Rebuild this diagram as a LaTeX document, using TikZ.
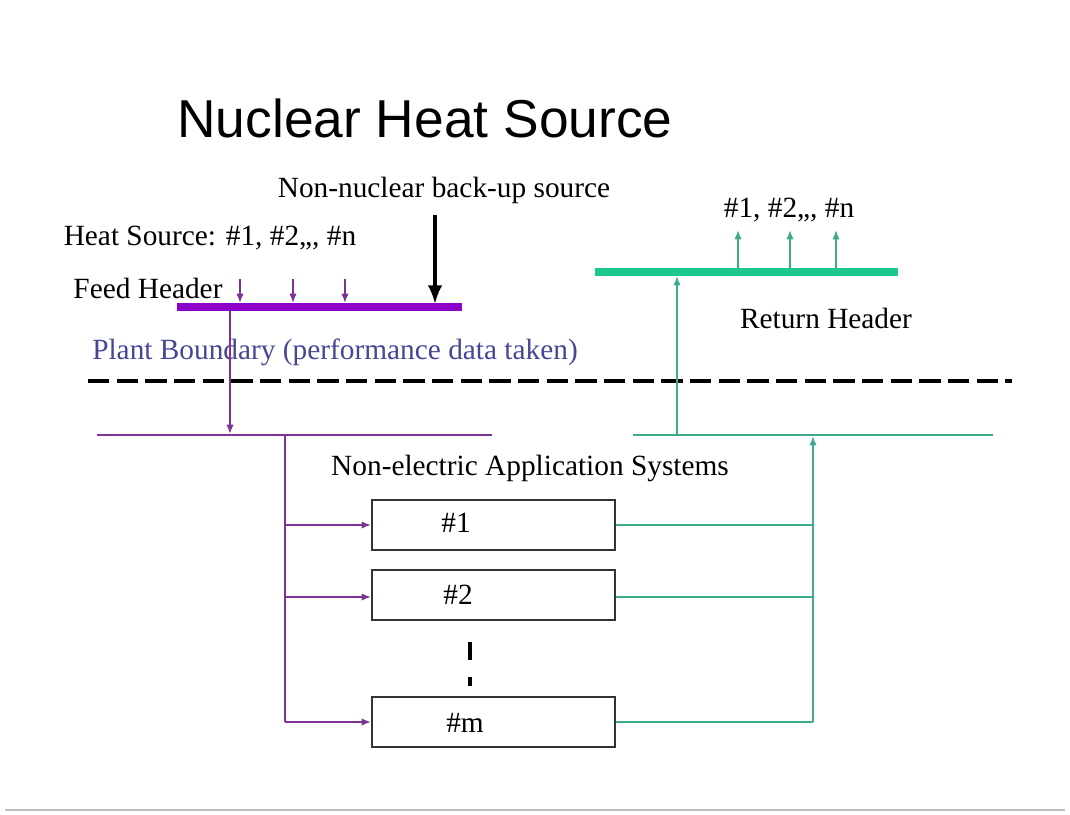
\documentclass[tikz,border=0pt]{standalone}
\usepackage{fontspec}
\setmainfont{Liberation Serif}
\newfontfamily\titlefont{Liberation Sans}
\usetikzlibrary{arrows.meta}
\definecolor{purplebar}{RGB}{140,0,200}
\definecolor{purpleline}{RGB}{125,50,150}
\definecolor{tealbar}{RGB}{30,200,140}
\definecolor{tealline}{RGB}{60,170,140}
\definecolor{boundblue}{RGB}{70,70,150}
\tikzset{
  lbl/.style={inner sep=0pt, font=\fontsize{22}{26}\selectfont},
  sysbox/.style={draw=black!80, line width=1.5pt, minimum width=243*0.75pt, minimum height=50*0.75pt, inner sep=0pt},
  pthin/.style={draw=purpleline, line width=1.2pt},
  tthin/.style={draw=tealline, line width=1.2pt},
  parrow/.style={pthin, -{Latex[length=7pt,width=5.5pt]}},
  tarrow/.style={tthin, -{Latex[length=7pt,width=5.5pt]}},
}
\begin{document}
\begin{tikzpicture}[x=0.75pt,y=-0.75pt]
\useasboundingbox (0,0) rectangle (1070,814);
\draw[black!25, line width=1pt] (5,810) -- (1065,810);
% title
\node[inner sep=0pt, font=\titlefont\fontsize{40}{46}\selectfont] (title) at (425,118) {Nuclear Heat Source};
% labels
\node[lbl] (backup) at (444,190) {Non-nuclear back-up source};
\node[lbl] (hs) at (210,238) {Heat Source: \#1, \#2,,, \#n};
\node[lbl] (fh) at (148,288) {Feed Header};
\node[lbl, text=boundblue] (pb) at (335,352) {Plant Boundary (performance data taken)};
\node[lbl] (ret) at (789,210) {\#1, \#2,,, \#n};
\node[lbl] (rh) at (826,318) {Return Header};
\node[lbl] (nea) at (530,468) {Non-electric Application Systems};
% feed header bar
\coordinate (fL) at (177,307);
\coordinate (fR) at (462,307);
\draw[purplebar, line width=6pt] (fL) -- (fR);
\foreach \x/\n in {240/a,293/b,345/c}{
  \coordinate (hs\n) at (\x,279);
  \coordinate (hf\n) at (\x,303);
  \draw[parrow] (hs\n) -- (hf\n);
}
\coordinate (bkT) at (435,215);
\coordinate (bkB) at (435,304);
\draw[black, line width=2.5pt, -{Latex[length=14pt,width=11pt]}] (bkT) -- (bkB);
% boundary dashed line
\coordinate (dL) at (88,381);
\coordinate (dR) at (1012,381);
\draw[black, line width=2.6pt, dash pattern=on 16pt off 5.5pt] (dL) -- (dR);
% lower distribution lines
\coordinate (plL) at (97,435);
\coordinate (plR) at (492,435);
\draw[pthin] (plL) -- (plR);
\coordinate (tlL) at (633,435);
\coordinate (tlR) at (993,435);
\draw[tthin] (tlL) -- (tlR);
\coordinate (fd1) at (230,311);
\coordinate (fd2) at (230,434);
\draw[parrow] (fd1) -- (fd2);
% boxes
\node[sysbox] (b1) at (493.5,525) {};
\node[sysbox] (b2) at (493.5,595) {};
\node[sysbox] (bm) at (493.5,722) {};
\node[lbl] (t1) at (456,523) {\#1};
\node[lbl] (t2) at (458,595) {\#2};
\node[lbl] (tm) at (465,723) {\#m};
\draw[black, line width=3pt] (470,642) -- (470,660);
\draw[black, line width=3pt] (470,677) -- (470,686);
% purple feed to boxes
\coordinate (pv0) at (285,435);
\coordinate (pv1) at (285,525);
\coordinate (pv2) at (285,597);
\coordinate (pvm) at (285,722);
\draw[pthin] (pv0) -- (pvm);
\draw[parrow] (pv1) -- (b1.west);
\draw[parrow] (pv2) -- (b2.west |- pv2);
\draw[parrow] (pvm) -- (bm.west);
% teal returns
\coordinate (tv1) at (813,525);
\coordinate (tv2) at (813,597);
\coordinate (tvm) at (813,722);
\coordinate (tv0) at (813,436);
\draw[tthin] (b1.east) -- (tv1);
\draw[tthin] (b2.east |- tv2) -- (tv2);
\draw[tthin] (bm.east) -- (tvm);
\draw[tarrow] (tvm) -- (tv0);
\coordinate (tu0) at (677,435);
\coordinate (tu1) at (677,276);
\draw[tarrow] (tu0) -- (tu1);
% return header bar
\coordinate (rL) at (595,272);
\coordinate (rR) at (898,272);
\draw[tealbar, line width=5.5pt] (rL) -- (rR);
\foreach \x/\n in {738/a,790/b,836/c}{
  \coordinate (rs\n) at (\x,269);
  \coordinate (re\n) at (\x,230);
  \draw[tarrow] (rs\n) -- (re\n);
}
\end{tikzpicture}
\end{document}
